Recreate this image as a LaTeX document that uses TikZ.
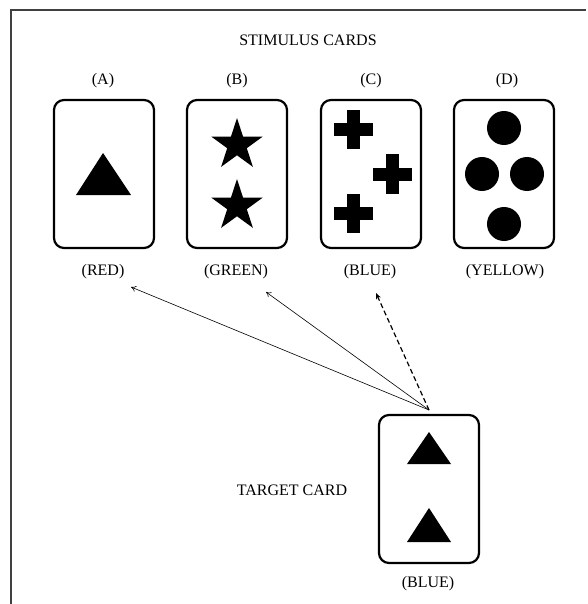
\documentclass[tikz,border=0pt]{standalone}
\usepackage{fontspec}
\setmainfont{Liberation Serif}
\usetikzlibrary{shapes.geometric,arrows.meta}
\begin{document}
\begin{tikzpicture}[x=1pt,y=-1pt,
  card/.style={draw,line width=2.2pt,rounded corners=10pt,minimum width=100pt,minimum height=148pt,inner sep=0pt},
  lbl/.style={font=\fontsize{16}{18}\selectfont,inner sep=0pt},
  starshape/.style={star,star points=5,star point ratio=2.618,fill=black,minimum size=54pt,inner sep=0pt},
  dot/.style={circle,fill=black,minimum size=34pt,inner sep=0pt},
  conn/.style={line width=0.6pt,-{To[length=5pt,width=6pt]}},
  connd/.style={line width=1.2pt,dashed,dash pattern=on 5pt off 3pt,-{Stealth[length=6pt,width=5pt]}}]
\useasboundingbox (0,0) rectangle (587,604);
\draw[line width=1.5pt,black!75] (11,604) -- (11,10) -- (586,10);
\node[lbl] (title) at (308,40) {STIMULUS CARDS};
% stimulus cards
\node[card] (A) at (104,174) {};
\node[card] (B) at (237,174) {};
\node[card] (C) at (371,174) {};
\node[card] (D) at (504,174) {};
\node[lbl] (la) at (103,81) {(A)};
\node[lbl] (lb) at (237,81) {(B)};
\node[lbl] (lc) at (371,81) {(C)};
\node[lbl] (ld) at (507,81) {(D)};
\node[lbl] (ca) at (103,272) {(RED)};
\node[lbl] (cb) at (236,272) {(GREEN)};
\node[lbl] (cc) at (370,272) {(BLUE)};
\node[lbl] (cd) at (505,272) {(YELLOW)};
% A: triangle
\fill (103,153) -- (131,195) -- (76,195) -- cycle;
% B: stars
\node[starshape] (s1) at (237,145) {};
\node[starshape] (s2) at (237,206) {};
% C: crosses
\foreach \cx/\cy in {353/130, 392/174, 353/213}{
  \fill (\cx-19.5,\cy-6.5) rectangle (\cx+19.5,\cy+6.5);
  \fill (\cx-6.5,\cy-19.5) rectangle (\cx+6.5,\cy+19.5);
}
% D: circles
\node[dot] (d1) at (504,128) {};
\node[dot] (d2) at (482,174) {};
\node[dot] (d3) at (527,174) {};
\node[dot] (d4) at (504,224) {};
% target card
\node[card] (T) at (429,489) {};
\fill (429,432) -- (451,464) -- (407,464) -- cycle;
\fill (429,508) -- (451,542) -- (407,542) -- cycle;
\node[lbl] (tl) at (428,584) {(BLUE)};
\node[lbl] (tt) at (292,490) {TARGET CARD};
% connectors
\coordinate (src) at (429,410);
\coordinate (ea) at (131,287);
\coordinate (eb) at (266,292);
\coordinate (ec) at (376,293);
\draw[conn] (src) -- (ea);
\draw[conn] (src) -- (eb);
\draw[connd] (src) -- (ec);
\end{tikzpicture}
\end{document}
